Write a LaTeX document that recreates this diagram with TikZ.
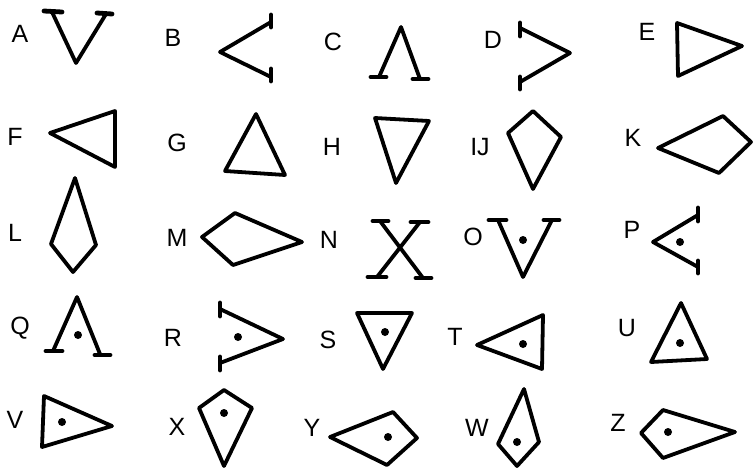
\documentclass[tikz,border=0pt]{standalone}
\usepackage{fontspec}
\setmainfont{Liberation Sans}
\begin{document}
\begin{tikzpicture}[x=1pt,y=-1pt,
  lbl/.style={inner sep=0pt,font=\fontsize{25}{25}\selectfont},
  shp/.style={line width=3.8pt,line join=round,line cap=round},
  serif/.style={line width=4.8pt,line cap=round},
  pip/.style={fill=black}]
\useasboundingbox (0,0) rectangle (754,469);
% ---- Row 1
\node[lbl] (lA) at (20,34) {A};
\draw[shp] (52,12) -- (76,63) -- (106,14);
\draw[serif] (44,11) -- (62,12); \draw[serif] (97,13) -- (112,14);
\node[lbl] (lB) at (173,38) {B};
\draw[shp] (271,22) -- (220,52) -- (271,77);
\draw[serif] (271,15) -- (271,27); \draw[serif] (271,69) -- (271,81);
\node[lbl] (lC) at (333,42) {C};
\draw[shp] (379,77) -- (401,27) -- (420,79);
\draw[serif] (371,77) -- (386,77); \draw[serif] (413,79) -- (428,79);
\node[lbl] (lD) at (493,40) {D};
\draw[shp] (520,28) -- (570,53) -- (520,82);
\draw[serif] (520,23) -- (520,36); \draw[serif] (520,77) -- (520,89);
\node[lbl] (lE) at (647,32) {E};
\draw[shp] (677,23) -- (742,46) -- (678,76) -- cycle;
% ---- Row 2
\node[lbl] (lF) at (15,137) {F};
\draw[shp] (50,133) -- (115,111) -- (115,167) -- cycle;
\node[lbl] (lG) at (177,143) {G};
\draw[shp] (256,114) -- (285,175) -- (225,171) -- cycle;
\node[lbl] (lH) at (332,147) {H};
\draw[shp] (375,118) -- (429,121) -- (396,183) -- cycle;
\node[lbl] (lIJ) at (480,147) {IJ};
\draw[shp] (533,111) -- (561,137) -- (533,189) -- (508,133) -- cycle;
\node[lbl] (lK) at (633,138) {K};
\draw[shp] (658,148) -- (723,116) -- (751,142) -- (719,173) -- cycle;
% ---- Row 3
\node[lbl] (lL) at (15,233) {L};
\draw[shp] (75,178) -- (96,245) -- (73,272) -- (51,244) -- cycle;
\node[lbl] (lM) at (177,238) {M};
\draw[shp] (202,237) -- (235,213) -- (302,242) -- (233,265) -- cycle;
\node[lbl] (lN) at (329,240) {N};
\draw[shp] (380,221) -- (423,278); \draw[shp] (420,222) -- (377,277);
\draw[serif] (373,221) -- (388,221); \draw[serif] (411,222) -- (428,222);
\draw[serif] (368,277) -- (386,277); \draw[serif] (416,278) -- (431,278);
\node[lbl] (lO) at (473,237) {O};
\draw[shp] (498,220) -- (523,277) -- (552,220);
\draw[serif] (489,220) -- (506,220); \draw[serif] (544,220) -- (559,220);
\fill[pip] (523,240) circle (4);
\node[lbl] (lP) at (632,230) {P};
\draw[shp] (698,215) -- (653,242) -- (698,267);
\draw[serif] (698,208) -- (698,221); \draw[serif] (698,261) -- (698,273);
\fill[pip] (680,242) circle (4);
% ---- Row 4
\node[lbl] (lQ) at (20,328) {Q};
\draw[shp] (53,351) -- (77,297) -- (100,354);
\draw[serif] (46,351) -- (62,351); \draw[serif] (95,355) -- (110,355);
\fill[pip] (78,335) circle (4);
\node[lbl] (lR) at (173,338) {R};
\draw[shp] (220,309) -- (283,339) -- (220,363);
\draw[serif] (220,303) -- (220,316); \draw[serif] (220,357) -- (220,370);
\fill[pip] (238,337) circle (4);
\node[lbl] (lS) at (328,340) {S};
\draw[shp] (357,313) -- (412,313) -- (383,369) -- cycle;
\fill[pip] (385,332) circle (4);
\node[lbl] (lT) at (455,337) {T};
\draw[shp] (477,345) -- (543,315) -- (542,369) -- cycle;
\fill[pip] (523,344) circle (4);
\node[lbl] (lU) at (627,328) {U};
\draw[shp] (681,303) -- (707,359) -- (651,362) -- cycle;
\fill[pip] (680,343) circle (4);
% ---- Row 5
\node[lbl] (lV) at (15,420) {V};
\draw[shp] (44,396) -- (112,426) -- (42,447) -- cycle;
\fill[pip] (62,422) circle (4);
\node[lbl] (lX) at (177,427) {X};
\draw[shp] (224,390) -- (252,408) -- (224,466) -- (199,408) -- cycle;
\fill[pip] (224,413) circle (4);
\node[lbl] (lY) at (312,428) {Y};
\draw[shp] (330,437) -- (393,412) -- (417,438) -- (387,465) -- cycle;
\fill[pip] (388,437) circle (4);
\node[lbl] (lW) at (477,428) {W};
\draw[shp] (524,389) -- (539,442) -- (517,466) -- (498,444) -- cycle;
\fill[pip] (517,442) circle (4);
\node[lbl] (lZ) at (618,423) {Z};
\draw[shp] (641,433) -- (663,410) -- (735,432) -- (663,458) -- cycle;
\fill[pip] (668,432) circle (4);
\end{tikzpicture}
\end{document}
